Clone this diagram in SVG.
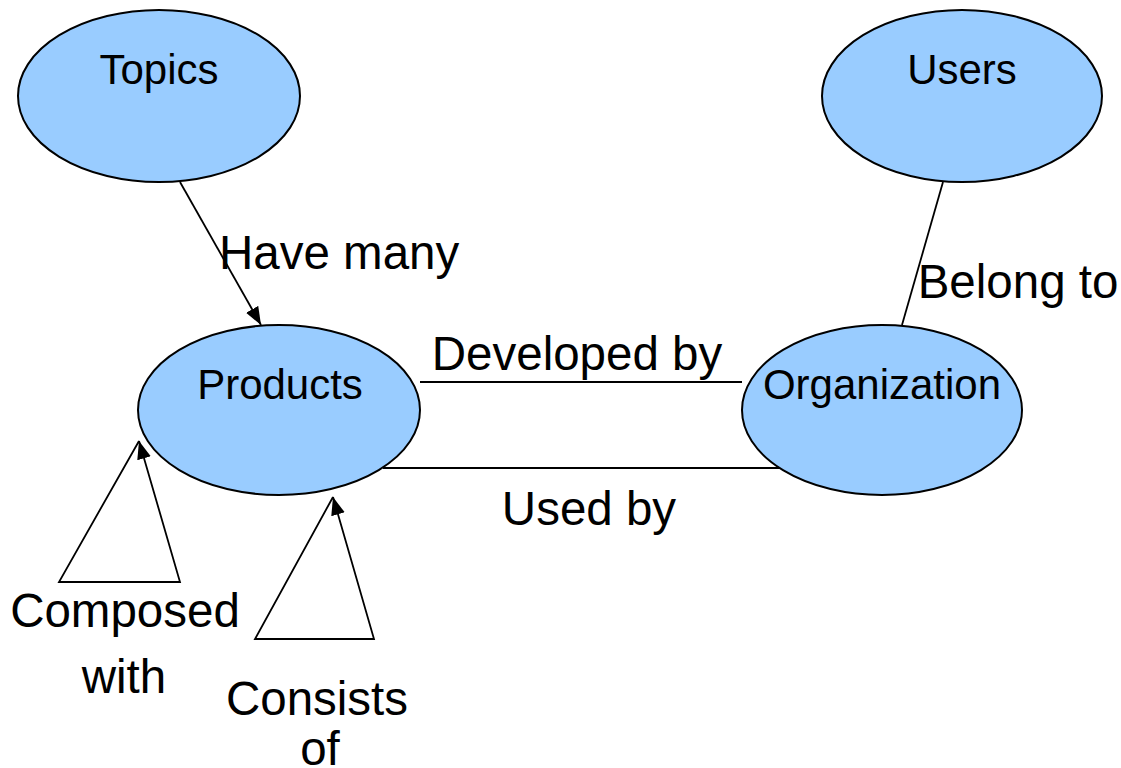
<svg xmlns="http://www.w3.org/2000/svg" width="1121" height="768" viewBox="0 0 1121 768">
<style>
.node{fill:#99CCFF;stroke:#000;stroke-width:2}
.nt{font-family:"Liberation Sans",Arial,sans-serif;font-size:42px;fill:#000;text-anchor:middle}
.lt{font-family:"Liberation Sans",Arial,sans-serif;font-size:47.5px;fill:#000}
.c{fill:none;stroke:#000;stroke-width:1.8}
</style>
<defs>
<marker id="arr" markerUnits="userSpaceOnUse" markerWidth="20" markerHeight="16" refX="18" refY="7" orient="auto">
<path d="M0,0 L18,7 L0,14 z" fill="#000"/>
</marker>
</defs>
<rect width="1121" height="768" fill="#fff"/>
<g id="connectors">
<line class="c" x1="180" y1="182" x2="261" y2="325" marker-end="url(#arr)"/>
<line class="c" x1="943" y1="182" x2="902" y2="325"/>
<line class="c" x1="420" y1="382" x2="742" y2="382"/>
<line class="c" x1="383" y1="468" x2="781" y2="468"/>
<path class="c" d="M139,441 L59,582 L180,582 L139,441" marker-end="url(#arr)"/>
<path class="c" d="M333,497 L255,639 L374,639 L333,497" marker-end="url(#arr)"/>
</g>
<g id="node-topics">
<ellipse class="node" cx="159" cy="96" rx="141" ry="86"/>
<text class="nt" x="159" y="84">Topics</text>
</g>
<g id="node-users">
<ellipse class="node" cx="962" cy="96" rx="140" ry="86"/>
<text class="nt" x="962" y="84">Users</text>
</g>
<g id="node-products">
<ellipse class="node" cx="279" cy="410" rx="141" ry="85"/>
<text class="nt" x="280" y="399">Products</text>
</g>
<g id="node-organization">
<ellipse class="node" cx="882" cy="410" rx="140" ry="85"/>
<text class="nt" x="882" y="399">Organization</text>
</g>
<g id="labels">
<text class="lt" x="219" y="269">Have many</text>
<text class="lt" x="1018" y="298" text-anchor="middle">Belong to</text>
<text class="lt" x="577" y="370" text-anchor="middle">Developed by</text>
<text class="lt" x="589" y="525" text-anchor="middle">Used by</text>
<text class="lt" x="125" y="627" text-anchor="middle">Composed</text>
<text class="lt" x="124" y="693" text-anchor="middle">with</text>
<text class="lt" x="317" y="715" text-anchor="middle">Consists</text>
<text class="lt" x="320" y="765" text-anchor="middle">of</text>
</g>
</svg>
